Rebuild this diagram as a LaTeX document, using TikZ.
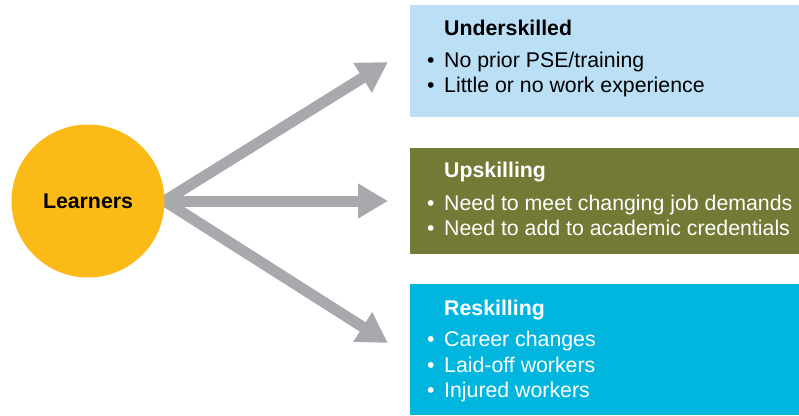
\documentclass[tikz,border=0pt]{standalone}
\usepackage{fontspec}
\setmainfont{Liberation Sans}
\usetikzlibrary{arrows.meta,backgrounds}
\definecolor{boxblue}{RGB}{187,224,246}
\definecolor{boxolive}{RGB}{115,122,54}
\definecolor{boxcyan}{RGB}{0,182,223}
\definecolor{learnyellow}{RGB}{252,186,22}
\definecolor{arrowgray}{RGB}{167,169,172}
\begin{document}
\begin{tikzpicture}[x=1pt,y=-1pt,
  panel/.style={draw=none, inner sep=0pt, outer sep=0pt, anchor=north west, minimum width=389pt},
  headtxt/.style={anchor=base west, inner sep=0pt, font=\fontsize{21.3}{25}\selectfont\bfseries},
  itemtxt/.style={anchor=base west, inner sep=0pt, font=\fontsize{21.3}{25}\selectfont},
  arr/.style={draw=arrowgray, line width=11pt, -{Triangle[length=30pt,width=33pt]}},
  learner/.style={circle, fill=learnyellow, minimum size=153pt, inner sep=0pt, outer sep=0pt, font=\fontsize{21.3}{25}\selectfont\bfseries}]
\useasboundingbox (0,0) rectangle (799,415);
\node[learner] (L) at (88,201) {Learners};
% arrow targets
\coordinate (t1) at (388,62);
\coordinate (t2) at (388,201);
\coordinate (t3) at (388,343);
\begin{pgfonlayer}{background}
\draw[arr] (L.east) -- (t1);
\draw[arr] (L.east) -- (t2);
\draw[arr] (L.east) -- (t3);
\end{pgfonlayer}
% panels
\node[panel, fill=boxblue, minimum height=112pt] (b1) at (410,5) {};
\node[panel, fill=boxolive, minimum height=106pt] (b2) at (410,148) {};
\node[panel, fill=boxcyan, minimum height=131pt] (b3) at (410,284) {};
% panel 1
\node[headtxt] (h1) at (444,35) {Underskilled};
\node[itemtxt] (i11) at (427,67) {\makebox[17pt][l]{•}No prior PSE/training};
\node[itemtxt] (i12) at (427,92) {\makebox[17pt][l]{•}Little or no work experience};
% panel 2
\node[headtxt, text=white] (h2) at (444,177) {Upskilling};
\node[itemtxt, text=white] (i21) at (427,210) {\makebox[17pt][l]{•}Need to meet changing job demands};
\node[itemtxt, text=white] (i22) at (427,235) {\makebox[17pt][l]{•}Need to add to academic credentials};
% panel 3
\node[headtxt, text=white] (h3) at (444,315) {Reskilling};
\node[itemtxt, text=white] (i31) at (427,346) {\makebox[17pt][l]{•}Career changes};
\node[itemtxt, text=white] (i32) at (427,372) {\makebox[17pt][l]{•}Laid-off workers};
\node[itemtxt, text=white] (i33) at (427,397) {\makebox[17pt][l]{•}Injured workers};
\end{tikzpicture}
\end{document}
